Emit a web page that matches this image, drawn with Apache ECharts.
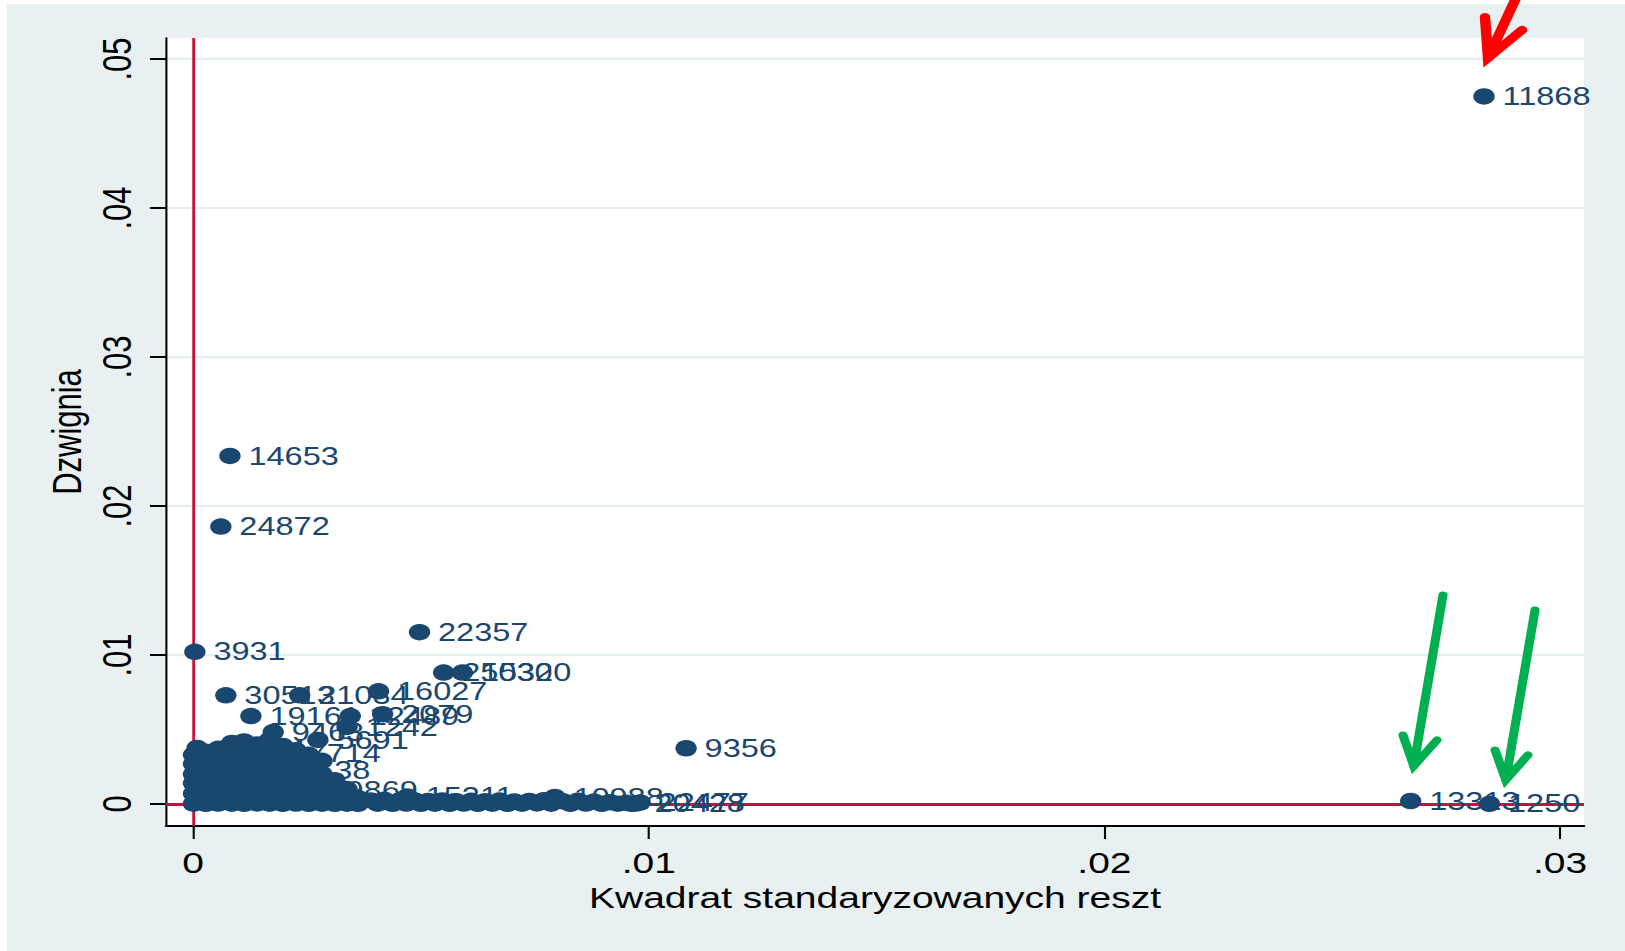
<!DOCTYPE html>
<html>
<head>
<meta charset="utf-8">
<script src="https://cdn.jsdelivr.net/npm/echarts@6/dist/echarts.min.js"></script>
<style>
  html, body { margin: 0; padding: 0; background: #ffffff; width: 1625px; height: 951px; overflow: hidden; }
  #panel { position: absolute; left: 7px; top: 4px; right: 0; bottom: 0; background: #e8f0f2; }
  /* the graph is laid out on a narrower canvas and widened horizontally */
  #chart { position: absolute; left: 0; top: 0; width: 1250px; height: 951px; transform: scaleX(1.3); transform-origin: 0 0; }
</style>
</head>
<body>
<div id="panel"></div>
<div id="chart"></div>
<script>
// ---- axis ticks and titles ----
const xTicks = [0, 0.01, 0.02, 0.03];
const xTickLabels = ['0', '.01', '.02', '.03'];
const yTicks = [0, 0.01, 0.02, 0.03, 0.04, 0.05];
const yTickLabels = ['0', '.01', '.02', '.03', '.04', '.05'];
const xTitle = 'Kwadrat standaryzowanych reszt';
const yTitle = 'Dzwignia';
const xRange = [-0.000593, 0.030525];
const yRange = [-0.001477, 0.05141];

// reference lines: mean normalized residual squared and mean leverage
const refX = 0.00004;
const refY = 0.00004;

// ---- labelled observations (id, normalized residual squared, leverage) ----
const labeledIds = ['11868', '14653', '24872', '22357', '3931', '25030', '15320', '30513', '21034',
  '16027', '19161', '12489', '2079', '1242', '9463', '5691', '7714', '1138', '9869', '17044',
  '9356', '15311', '10988', '20428', '22477', '13313', '1250'];
const labeledX = [0.02833, 0.00081, 0.00061, 0.00497, 0.00004, 0.00550, 0.00591, 0.00072, 0.00234,
  0.00407, 0.00127, 0.00345, 0.00416, 0.00338, 0.00176, 0.00274, 0.00213, 0.00195, 0.00294, 0.00009,
  0.01082, 0.00470, 0.00794, 0.00972, 0.00981, 0.02672, 0.02845];
const labeledY = [0.04749, 0.02336, 0.01862, 0.01153, 0.01021, 0.00882, 0.00882, 0.00729, 0.00729,
  0.00756, 0.00590, 0.00590, 0.00603, 0.00517, 0.00483, 0.00430, 0.00342, 0.00228, 0.00094, 0.00376,
  0.00374, 0.00050, 0.00047, 0.00003, 0.00010, 0.00020, 0.00001];

// ---- dense mass of observations near the origin ----
const clusterPoints = [
  [0.00001, 0.00002], [0.00001, 0.0007], [0.00001, 0.0014], [0.00001, 0.0020], [0.00001, 0.0027], [0.00001, 0.0033],
  [0.00028, 0.00001], [0.00028, 0.0006], [0.00028, 0.0013], [0.00028, 0.0021], [0.00028, 0.0028], [0.00028, 0.0035],
  [0.00055, 0.00003], [0.00055, 0.0007], [0.00055, 0.0014], [0.00055, 0.0020], [0.00055, 0.0026], [0.00055, 0.0033], [0.00055, 0.0037],
  [0.00085, 0.00002], [0.00085, 0.0006], [0.00085, 0.0013], [0.00085, 0.0019], [0.00085, 0.0027], [0.00085, 0.0034], [0.00085, 0.0041],
  [0.00112, 0.00001], [0.00112, 0.0007], [0.00112, 0.0014], [0.00112, 0.0021], [0.00112, 0.0028], [0.00112, 0.0035], [0.00112, 0.0042],
  [0.00141, 0.00004], [0.00141, 0.0006], [0.00141, 0.0013], [0.00141, 0.0020], [0.00141, 0.0027], [0.00141, 0.0033], [0.00141, 0.0040],
  [0.00168, 0.00002], [0.00168, 0.0007], [0.00168, 0.0014], [0.00168, 0.0021], [0.00168, 0.0028], [0.00168, 0.0034], [0.00168, 0.0043],
  [0.00197, 0.00001], [0.00197, 0.0006], [0.00197, 0.0013], [0.00197, 0.0020], [0.00197, 0.0026], [0.00197, 0.0033], [0.00197, 0.0039],
  [0.00226, 0.00003], [0.00226, 0.0007], [0.00226, 0.0014], [0.00226, 0.0021], [0.00226, 0.0027], [0.00226, 0.0036],
  [0.00254, 0.00001], [0.00254, 0.0006], [0.00254, 0.0013], [0.00254, 0.0019], [0.00254, 0.0026], [0.00254, 0.0033],
  [0.00283, 0.00002], [0.00283, 0.0007], [0.00283, 0.0013], [0.00283, 0.0020], [0.00283, 0.0029],
  [0.00311, 0.00001], [0.00311, 0.0006], [0.00311, 0.0012], [0.00311, 0.0016],
  [0.00338, 0.00002], [0.00338, 0.0006], [0.00338, 0.0010],
  [0.00362, 0.00001], [0.00362, 0.0004]
];

// ---- observations with near-zero leverage stretching to the right ----
const bandPoints = [
  [0.00390, 0.00024], [0.00405, 0.00002], [0.00420, 0.00028], [0.00438, 0.00001], [0.00452, 0.00022],
  [0.00468, 0.00003], [0.00485, 0.00025], [0.00500, 0.00001], [0.00516, 0.00020], [0.00531, 0.00002],
  [0.00547, 0.00024], [0.00563, 0.00001], [0.00578, 0.00018], [0.00594, 0.00003], [0.00610, 0.00021],
  [0.00625, 0.00001], [0.00641, 0.00019], [0.00657, 0.00002], [0.00672, 0.00023], [0.00690, 0.00001],
  [0.00705, 0.00017], [0.00722, 0.00002], [0.00738, 0.00020], [0.00755, 0.00004], [0.00770, 0.00025],
  [0.00786, 0.00002], [0.00812, 0.00018], [0.00828, 0.00001], [0.00845, 0.00022], [0.00862, 0.00003],
  [0.00880, 0.00016], [0.00897, 0.00001], [0.00915, 0.00012], [0.00932, 0.00002], [0.00950, 0.00008],
  [0.00962, 0.00001]
];

const FONT = '"Liberation Sans", Arial, Helvetica, sans-serif';
const NAVY = '#1a476f';
const RED = '#c8103c';
const GREEN = '#00b050';

function tickText(ticks, labels) {
  return function (v) {
    const i = ticks.findIndex(t => Math.abs(t - v) < 1e-9);
    return i >= 0 ? labels[i] : '';
  };
}

const labeledData = labeledIds.map((id, i) => ({ name: id, value: [labeledX[i], labeledY[i]] }));
const massData = clusterPoints.concat(bandPoints);

// hand-drawn arrows pointing at the influential observations
function arrow(shaft, head, color, width) {
  return [
    { type: 'polyline', z: 100, silent: true, shape: { points: shaft },
      style: { stroke: color, lineWidth: width, fill: null, lineCap: 'round' } },
    { type: 'polyline', z: 100, silent: true, shape: { points: head },
      style: { stroke: color, lineWidth: width, fill: null, lineCap: 'round', lineJoin: 'miter', miterLimit: 10 } }
  ];
}

const chart = echarts.init(document.getElementById('chart'), null, { renderer: 'svg' });

chart.setOption({
  animation: false,
  textStyle: { fontFamily: FONT },
  grid: {
    left: 127.7, right: 31.5, top: 38, bottom: 125,
    show: true, backgroundColor: '#ffffff', borderWidth: 0,
    outerBoundsMode: 'none'
  },
  xAxis: {
    type: 'value', min: xRange[0], max: xRange[1],
    name: xTitle, nameLocation: 'middle', nameGap: 55,
    nameTextStyle: { color: '#000', fontSize: 30, lineHeight: 30, fontFamily: FONT },
    axisLine: { onZero: false, lineStyle: { color: '#000', width: 2 } },
    axisTick: { show: true, length: 13, customValues: xTicks, lineStyle: { color: '#000', width: 1.6 } },
    axisLabel: { customValues: xTicks, formatter: tickText(xTicks, xTickLabels), margin: 22,
      fontSize: 30, lineHeight: 30, color: '#000', fontFamily: FONT },
    splitLine: { show: false }
  },
  yAxis: {
    type: 'value', min: yRange[0], max: yRange[1],
    name: yTitle, nameLocation: 'middle', nameGap: 57,
    nameTextStyle: { color: '#000', fontSize: 31, lineHeight: 31, fontFamily: FONT },
    axisLine: { onZero: false, lineStyle: { color: '#000', width: 1.6 } },
    axisTick: { show: true, length: 12.3, customValues: yTicks, lineStyle: { color: '#000', width: 2 } },
    axisLabel: { customValues: yTicks, formatter: tickText(yTicks, yTickLabels), rotate: 90, margin: 22,
      fontSize: 31, lineHeight: 31, color: '#000', fontFamily: FONT },
    splitLine: { show: true, lineStyle: { color: '#e4edf0', width: 2 } }
  },
  series: [
    {
      name: 'reference', type: 'scatter', data: [], z: 1, silent: true,
      markLine: {
        z: 1, silent: true, animation: false, symbol: ['none', 'none'], label: { show: false },
        data: [
          { xAxis: refX, lineStyle: { color: RED, width: 2.2, type: 'solid' } },
          { yAxis: refY, lineStyle: { color: RED, width: 3, type: 'solid' } }
        ]
      }
    },
    {
      name: 'labelled', type: 'scatter', z: 2, silent: true,
      symbol: 'circle', symbolSize: 16.5,
      itemStyle: { color: NAVY, opacity: 1 },
      label: { show: true, position: 'right', distance: 6, formatter: '{b}',
        color: NAVY, fontSize: 25, fontFamily: FONT },
      data: labeledData
    },
    {
      name: 'mass', type: 'scatter', z: 3, silent: true,
      symbol: 'circle', symbolSize: 16.5,
      itemStyle: { color: NAVY, opacity: 1 },
      data: massData
    }
  ],
  graphic: [].concat(
    arrow([[1166.9, -4], [1144.6, 58]], [[1142.3, 17], [1144.6, 58], [1170.8, 30]], '#ff0000', 8),
    arrow([[1110.0, 595], [1087.5, 766]], [[1079.2, 735], [1087.5, 766], [1105.4, 740]], GREEN, 7),
    arrow([[1180.8, 610], [1158.3, 780]], [[1150.0, 750], [1158.3, 780], [1175.4, 755]], GREEN, 7)
  )
});
</script>
</body>
</html>
